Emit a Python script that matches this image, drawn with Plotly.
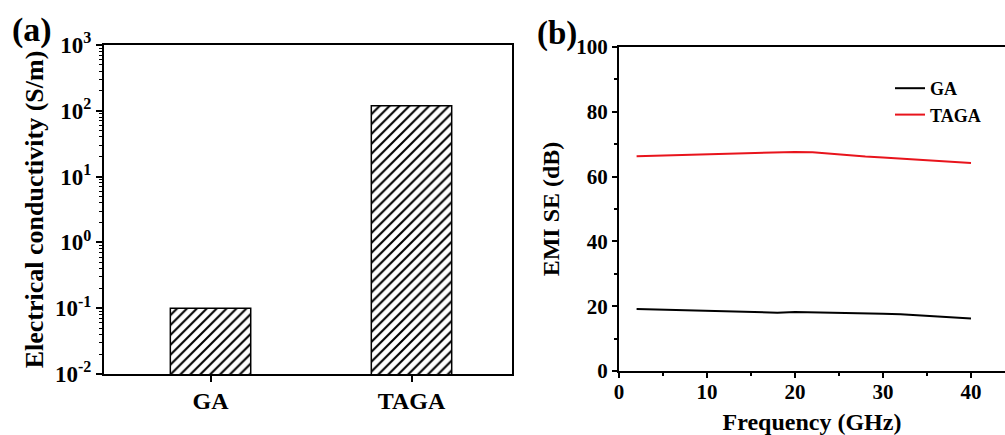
import plotly.graph_objects as go

# Panel (a) data
samples = ["GA", "TAGA"]
conductivity = [0.1, 119]
cond_ticks = [-2, -1, 0, 1, 2, 3]

# Panel (b) data
freq_ga = [2, 6, 10, 14, 17, 18, 20, 22, 24, 26, 30, 32, 34, 38, 40]
se_ga = [19.1, 18.8, 18.5, 18.3, 18.1, 18.0, 18.2, 18.1, 18.2, 18.0, 17.7, 17.5, 17.2, 16.6, 16.2]
freq_taga = [2, 6, 10, 14, 16, 17, 20, 22, 24, 26, 28, 30, 34, 38, 40]
se_taga = [66.3, 66.6, 66.9, 67.1, 67.2, 67.5, 67.6, 67.5, 67.0, 66.7, 66.2, 65.9, 65.2, 64.6, 64.2]

FONT = "Liberation Serif"
W, H = 1005, 435

def px_x(p):
    return p / W

def px_y(p):
    return 1 - p / H

fig = go.Figure()

fig.add_trace(go.Bar(
    x=samples, y=conductivity, width=0.4,
    marker=dict(color="white", line=dict(color="black", width=1.5),
                pattern=dict(shape="/", fgcolor="black", bgcolor="white", fgopacity=1,
                             size=7, solidity=0.3)),
    showlegend=False, xaxis="x", yaxis="y",
))

fig.add_trace(go.Scatter(x=freq_ga, y=se_ga, mode="lines", name="GA",
                         line=dict(color="black", width=2), xaxis="x2", yaxis="y2"))
fig.add_trace(go.Scatter(x=freq_taga, y=se_taga, mode="lines", name="TAGA",
                         line=dict(color="#e8141c", width=2), xaxis="x2", yaxis="y2"))

minor_log_vals = [m * 10 ** k for k in range(-2, 3) for m in range(2, 10)]

def tf(size):
    return dict(family=FONT, size=size, color="black", weight="bold")

axis_common = dict(showline=True, linecolor="black", linewidth=2, ticks="outside",
                   tickcolor="black", tickwidth=2, showgrid=False, zeroline=False,
                   automargin=False)

fig.update_layout(
    width=W, height=H, margin=dict(l=0, r=0, t=0, b=0, autoexpand=False),
    paper_bgcolor="white", plot_bgcolor="white",
    font=dict(family=FONT, color="black", weight="bold"),
    xaxis=dict(domain=[px_x(104), px_x(512)], type="category", range=[-0.53, 1.5],
               mirror=True, ticklen=6, anchor="y", tickfont=tf(24),
               ticklabelstandoff=-2, **axis_common),
    yaxis=dict(domain=[px_y(374), px_y(45)], type="log", range=[-2, 3], anchor="x",
               mirror=True, ticklen=6,
               tickvals=[10 ** k for k in cond_ticks],
               ticktext=["10<sup>%d</sup>" % k for k in cond_ticks],
               minor=dict(tickvals=minor_log_vals, ticks="outside", ticklen=3,
                          tickcolor="black", tickwidth=1),
               title=dict(text="Electrical conductivity (S/m)", standoff=4, font=tf(26)),
               tickfont=tf(23), **axis_common),
    xaxis2=dict(domain=[px_x(619), 1.0], range=[0, (W - 619) / 8.8], anchor="y2",
                mirror=True, dtick=10, tick0=0, ticklen=5, ticklabelstandoff=-4,
                minor=dict(dtick=5, ticks="outside", ticklen=3, tickcolor="black", tickwidth=2),
                title=dict(text="Frequency (GHz)", standoff=12, font=tf(24)),
                tickfont=tf(21), **axis_common),
    yaxis2=dict(domain=[px_y(371), px_y(47)], range=[0, 100], anchor="x2",
                dtick=20, ticklen=5,
                minor=dict(dtick=10, ticks="outside", ticklen=3, tickcolor="black", tickwidth=2),
                title=dict(text="EMI SE (dB)", standoff=10, font=tf(24)),
                tickfont=tf(21), **axis_common),
    legend=dict(x=px_x(890), y=px_y(70), xanchor="left", yanchor="top",
                bgcolor="rgba(0,0,0,0)", tracegroupgap=0, font=tf(18)),
    annotations=[
        dict(text="(a)", x=px_x(10), y=px_y(30), xref="paper", yref="paper",
             xanchor="left", yanchor="middle", showarrow=False, font=tf(34)),
        dict(text="(b)", x=px_x(535), y=px_y(33), xref="paper", yref="paper",
             xanchor="left", yanchor="middle", showarrow=False, font=tf(33)),
    ],
)

fig.write_html("out.html", config={"displayModeBar": False},
               post_script="document.body.style.margin='0';document.body.style.overflow='hidden';")
